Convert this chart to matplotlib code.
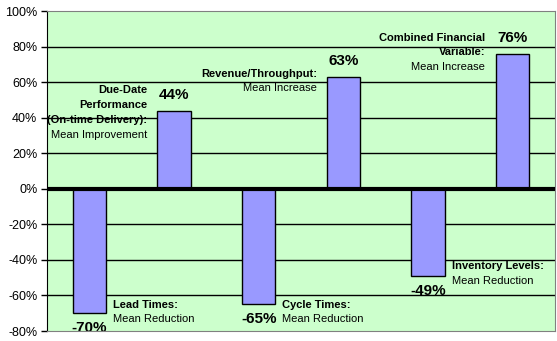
import matplotlib
matplotlib.use('Agg')
import matplotlib.pyplot as plt
from matplotlib.ticker import FuncFormatter

plt.rcParams['font.family'] = ['Liberation Sans', 'DejaVu Sans']

# bar values in percent, one per category slot
values = [-70, 44, -65, 63, -49, 76]
value_labels = ['-70%', '44%', '-65%', '63%', '-49%', '76%']
y_ticks = [-80, -60, -40, -20, 0, 20, 40, 60, 80, 100]

bar_color = '#9999FF'
plot_bg = '#CCFFCC'

fig = plt.figure(figsize=(5.57, 3.41), dpi=100)
ax = fig.add_axes([47 / 557, 1 - 331 / 341, 508 / 557, 320 / 341])
ax.set_facecolor(plot_bg)

x = list(range(len(values)))
ax.bar(x, values, width=0.39, color=bar_color, edgecolor='black', linewidth=1, zorder=3)

ax.set_xlim(-0.5, 5.5)
ax.set_ylim(-80, 100)
ax.set_yticks(y_ticks)
ax.yaxis.set_major_formatter(FuncFormatter(lambda v, p: '%d%%' % v))
ax.tick_params(axis='y', labelsize=9, length=4, width=1, direction='out', pad=3)
ax.set_xticks([])

# gridlines, drawn over the text boxes like in the original
for t in y_ticks[1:-1]:
    if t == 0:
        continue
    ax.axhline(t, color='black', linewidth=1, zorder=2)
ax.axhline(0, color='black', linewidth=3, zorder=4)

for s in ['top', 'right', 'bottom']:
    ax.spines[s].set_color('#808080')
ax.spines['left'].set_color('black')

# value labels
for xi, v, lab in zip(x, values, value_labels):
    if v >= 0:
        ax.annotate(lab, (xi, v), xytext=(0, 6.5), textcoords='offset points',
                    ha='center', va='bottom', fontsize=11, fontweight='bold', zorder=1)
    else:
        ax.annotate(lab, (xi, v), xytext=(0, -5.5), textcoords='offset points',
                    ha='center', va='top', fontsize=11, fontweight='bold', zorder=1)

def note(xp, yp, s, bold=False, ha='right'):
    ax.text(xp, yp, s, ha=ha, va='center', fontsize=8,
            fontweight='bold' if bold else 'normal', zorder=1)

note(0.68, 55.7, 'Due-Date', True)
note(0.68, 47.2, 'Performance', True)
note(0.68, 38.8, '(On-time Delivery):', True)
note(0.68, 30.4, 'Mean Improvement')

note(2.69, 64.7, 'Revenue/Throughput:', True)
note(2.69, 56.8, 'Mean Increase')

note(4.67, 84.9, 'Combined Financial', True)
note(4.68, 77.1, 'Variable:', True)
note(4.67, 68.6, 'Mean Increase')

note(0.276, -65.1, 'Lead Times:', True, 'left')
note(0.276, -73.1, 'Mean Reduction', ha='left')

note(2.28, -65.1, 'Cycle Times:', True, 'left')
note(2.28, -73.1, 'Mean Reduction', ha='left')

note(4.28, -43.7, 'Inventory Levels:', True, 'left')
note(4.28, -51.7, 'Mean Reduction', ha='left')

fig.savefig('out.png', dpi=100)
plt.close()
